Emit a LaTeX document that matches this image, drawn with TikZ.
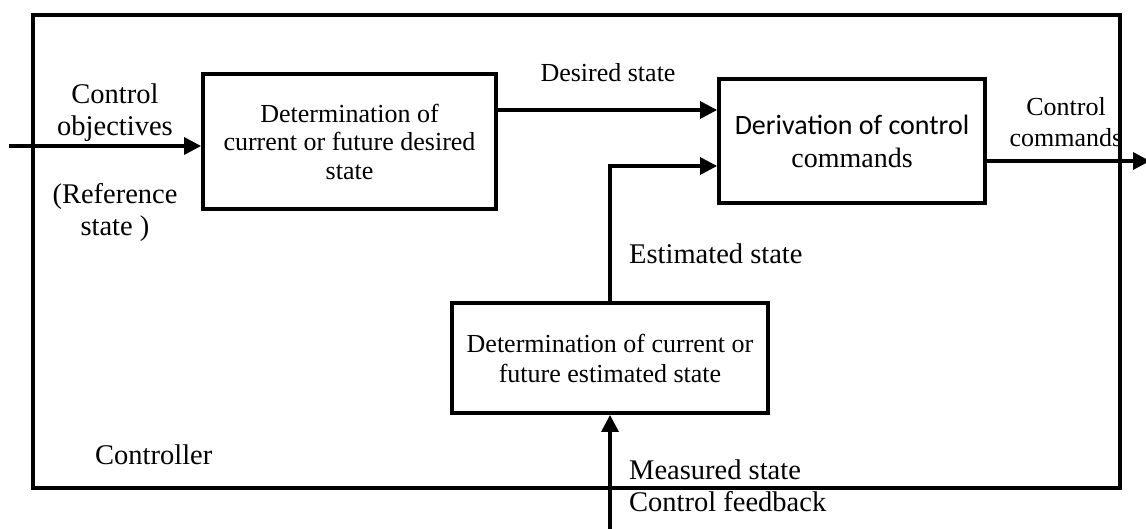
\documentclass[tikz,border=0pt]{standalone}
\usepackage{fontspec}
\setmainfont{Liberation Serif}
\newfontfamily\carlitofont{Carlito}
\usetikzlibrary{arrows.meta,calc}
\begin{document}
\begin{tikzpicture}[x=1pt,y=-1pt,
  box/.style={draw,line width=3.8pt,rectangle,inner sep=0pt,align=center,
    font=\fontsize{26}{28.5}\selectfont},
  arr/.style={line width=3.2pt,-{Triangle[length=17pt,width=17pt]}},
  lbl/.style={inner sep=0pt,align=center,font=\fontsize{26}{31}\selectfont},
  biglbl/.style={inner sep=0pt,align=center,font=\fontsize{28.5}{32}\selectfont}]
\useasboundingbox (0,0) rectangle (1146,529);
% outer controller frame
\node[draw,line width=3.2pt,rectangle,inner sep=0pt,minimum width=1087pt,minimum height=473pt] (ctrl) at (576.5,251.5) {};
% boxes
\node[box,minimum width=293pt,minimum height=135pt] (b1) at (349.5,141.5)
  {Determination of\\current or future desired\\state};
\node[box,minimum width=266pt,minimum height=124pt,font=\fontsize{28}{33}\selectfont] (b2) at (852,141)
  {{\carlitofont Derivation of control}\\commands};
\node[box,minimum width=316pt,minimum height=110pt,font=\fontsize{26}{30}\selectfont] (b3) at (610,358)
  {Determination of current or\\future estimated state};
% connectors
\coordinate (in) at (9,146);
\draw[arr] (in) -- (in -| b1.west);
\draw[arr] ([yshift=31.5pt]b1.east) coordinate (d1) -- (d1 -| b2.west);
\draw[arr] (b3.north) |- ([yshift=-25pt]b2.west);
\coordinate (fb) at (610,529);
\draw[arr] (fb) -- (b3.south);
\coordinate (out) at (1150,161);
\draw[arr] (out -| b2.east) -- (out);
% labels
\node[biglbl] (lco) at (115,113) {Control\\objectives};
\node[biglbl] (lref) at (115,213) {(Reference\\state )};
\node[lbl] (lds) at (608,73) {Desired state};
\node[lbl] (lcc) at (1066,122.5) {Control\\commands};
\node[biglbl,anchor=west] (les) at (629,254) {Estimated state};
\node[biglbl,anchor=west] (lms) at (629,470) {Measured state};
\node[biglbl,anchor=west] (lcf) at (629,502) {Control feedback};
\node[biglbl,anchor=west] (lctl) at (95,455) {Controller};
\end{tikzpicture}
\end{document}
